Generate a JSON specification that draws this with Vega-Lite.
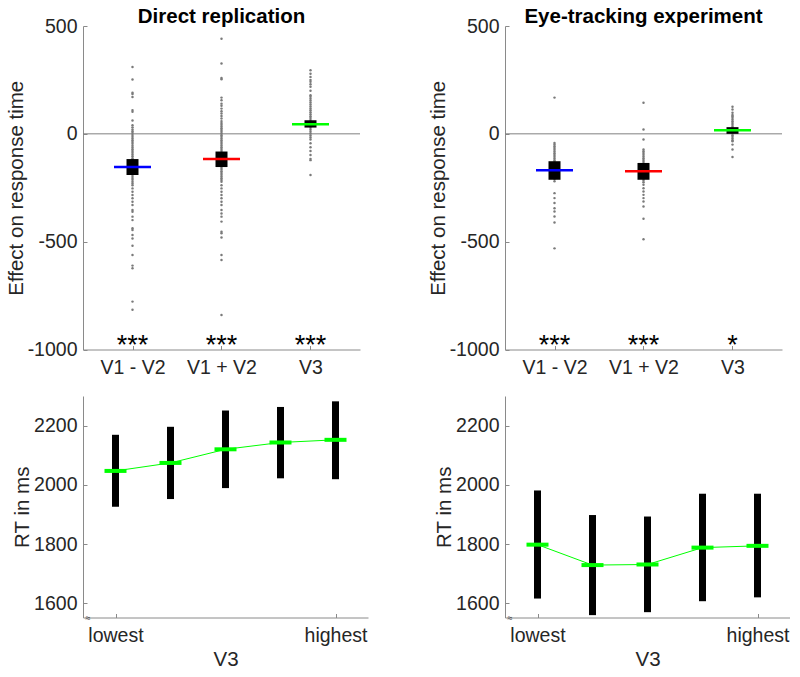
{
  "$schema": "https://vega.github.io/schema/vega-lite/v6.json",
  "background": "white",
  "padding": {"left": 6, "top": 7, "right": 0, "bottom": 0},
  "bounds": "flush",
  "columns": 2,
  "spacing": {"row": 46, "column": 137},
  "config": {
    "view": {"stroke": null},
    "font": "Liberation Sans",
    "axis": {
      "domainColor": "#8a8a8a", "tickColor": "#8a8a8a", "labelColor": "#262626", "titleColor": "#262626",
      "labelFont": "Liberation Sans", "titleFont": "Liberation Sans", "labelFontSize": 19.5, "titleFontSize": 20.5,
      "titleFontWeight": "normal", "grid": false, "tickSize": -4, "labelPadding": 10, "domainWidth": 1
    },
    "axisX": {"labelPadding": 13, "titlePadding": 4},
    "axisY": {"titlePadding": 1},
    "title": {"font": "Liberation Sans", "fontSize": 20.5, "fontWeight": "bold", "color": "#000000", "offset": -11.5}
  },
  "datasets": {
    "dots": [
      {"panel": "A", "x": 1, "y": 310}, {"panel": "A", "x": 1, "y": 252}, {"panel": "A", "x": 1, "y": 191}, {"panel": "A", "x": 1, "y": 185}, {"panel": "A", "x": 1, "y": 171}, {"panel": "A", "x": 1, "y": 110}, {"panel": "A", "x": 1, "y": 102}, {"panel": "A", "x": 1, "y": 62}, {"panel": "A", "x": 1, "y": 40}, {"panel": "A", "x": 1, "y": 30}, {"panel": "A", "x": 1, "y": 20}, {"panel": "A", "x": 1, "y": 12}, {"panel": "A", "x": 1, "y": 4}, {"panel": "A", "x": 1, "y": -5}, {"panel": "A", "x": 1, "y": -14}, {"panel": "A", "x": 1, "y": -22}, {"panel": "A", "x": 1, "y": -30}, {"panel": "A", "x": 1, "y": -38}, {"panel": "A", "x": 1, "y": -46}, {"panel": "A", "x": 1, "y": -55}, {"panel": "A", "x": 1, "y": -63}, {"panel": "A", "x": 1, "y": -71}, {"panel": "A", "x": 1, "y": -80}, {"panel": "A", "x": 1, "y": -88}, {"panel": "A", "x": 1, "y": -96}, {"panel": "A", "x": 1, "y": -104}, {"panel": "A", "x": 1, "y": -113}, {"panel": "A", "x": 1, "y": -121}, {"panel": "A", "x": 1, "y": -130}, {"panel": "A", "x": 1, "y": -138}, {"panel": "A", "x": 1, "y": -146}, {"panel": "A", "x": 1, "y": -155}, {"panel": "A", "x": 1, "y": -163}, {"panel": "A", "x": 1, "y": -171}, {"panel": "A", "x": 1, "y": -180}, {"panel": "A", "x": 1, "y": -188}, {"panel": "A", "x": 1, "y": -196}, {"panel": "A", "x": 1, "y": -205}, {"panel": "A", "x": 1, "y": -213}, {"panel": "A", "x": 1, "y": -222}, {"panel": "A", "x": 1, "y": -230}, {"panel": "A", "x": 1, "y": -238}, {"panel": "A", "x": 1, "y": -253}, {"panel": "A", "x": 1, "y": -269}, {"panel": "A", "x": 1, "y": -284}, {"panel": "A", "x": 1, "y": -299}, {"panel": "A", "x": 1, "y": -315}, {"panel": "A", "x": 1, "y": -330}, {"panel": "A", "x": 1, "y": -353}, {"panel": "A", "x": 1, "y": -361}, {"panel": "A", "x": 1, "y": -384}, {"panel": "A", "x": 1, "y": -400}, {"panel": "A", "x": 1, "y": -438}, {"panel": "A", "x": 1, "y": -446}, {"panel": "A", "x": 1, "y": -469}, {"panel": "A", "x": 1, "y": -485}, {"panel": "A", "x": 1, "y": -519}, {"panel": "A", "x": 1, "y": -562}, {"panel": "A", "x": 1, "y": -611}, {"panel": "A", "x": 1, "y": -623}, {"panel": "A", "x": 1, "y": -778}, {"panel": "A", "x": 1, "y": -816},
      {"panel": "A", "x": 2, "y": 441}, {"panel": "A", "x": 2, "y": 326}, {"panel": "A", "x": 2, "y": 259}, {"panel": "A", "x": 2, "y": 253}, {"panel": "A", "x": 2, "y": 168}, {"panel": "A", "x": 2, "y": 156}, {"panel": "A", "x": 2, "y": 140}, {"panel": "A", "x": 2, "y": 130}, {"panel": "A", "x": 2, "y": 117}, {"panel": "A", "x": 2, "y": 105}, {"panel": "A", "x": 2, "y": 94}, {"panel": "A", "x": 2, "y": 83}, {"panel": "A", "x": 2, "y": 71}, {"panel": "A", "x": 2, "y": 59}, {"panel": "A", "x": 2, "y": 50}, {"panel": "A", "x": 2, "y": 42}, {"panel": "A", "x": 2, "y": 34}, {"panel": "A", "x": 2, "y": 26}, {"panel": "A", "x": 2, "y": 18}, {"panel": "A", "x": 2, "y": 10}, {"panel": "A", "x": 2, "y": 2}, {"panel": "A", "x": 2, "y": -6}, {"panel": "A", "x": 2, "y": -14}, {"panel": "A", "x": 2, "y": -22}, {"panel": "A", "x": 2, "y": -30}, {"panel": "A", "x": 2, "y": -38}, {"panel": "A", "x": 2, "y": -46}, {"panel": "A", "x": 2, "y": -54}, {"panel": "A", "x": 2, "y": -62}, {"panel": "A", "x": 2, "y": -70}, {"panel": "A", "x": 2, "y": -78}, {"panel": "A", "x": 2, "y": -86}, {"panel": "A", "x": 2, "y": -94}, {"panel": "A", "x": 2, "y": -102}, {"panel": "A", "x": 2, "y": -110}, {"panel": "A", "x": 2, "y": -118}, {"panel": "A", "x": 2, "y": -126}, {"panel": "A", "x": 2, "y": -134}, {"panel": "A", "x": 2, "y": -142}, {"panel": "A", "x": 2, "y": -150}, {"panel": "A", "x": 2, "y": -158}, {"panel": "A", "x": 2, "y": -166}, {"panel": "A", "x": 2, "y": -174}, {"panel": "A", "x": 2, "y": -182}, {"panel": "A", "x": 2, "y": -190}, {"panel": "A", "x": 2, "y": -198}, {"panel": "A", "x": 2, "y": -206}, {"panel": "A", "x": 2, "y": -214}, {"panel": "A", "x": 2, "y": -222}, {"panel": "A", "x": 2, "y": -238}, {"panel": "A", "x": 2, "y": -253}, {"panel": "A", "x": 2, "y": -269}, {"panel": "A", "x": 2, "y": -284}, {"panel": "A", "x": 2, "y": -299}, {"panel": "A", "x": 2, "y": -315}, {"panel": "A", "x": 2, "y": -330}, {"panel": "A", "x": 2, "y": -353}, {"panel": "A", "x": 2, "y": -369}, {"panel": "A", "x": 2, "y": -384}, {"panel": "A", "x": 2, "y": -407}, {"panel": "A", "x": 2, "y": -454}, {"panel": "A", "x": 2, "y": -461}, {"panel": "A", "x": 2, "y": -481}, {"panel": "A", "x": 2, "y": -562}, {"panel": "A", "x": 2, "y": -585}, {"panel": "A", "x": 2, "y": -840},
      {"panel": "A", "x": 3, "y": 295}, {"panel": "A", "x": 3, "y": 279}, {"panel": "A", "x": 3, "y": 264}, {"panel": "A", "x": 3, "y": 250}, {"panel": "A", "x": 3, "y": 241}, {"panel": "A", "x": 3, "y": 230}, {"panel": "A", "x": 3, "y": 218}, {"panel": "A", "x": 3, "y": 200}, {"panel": "A", "x": 3, "y": 179}, {"panel": "A", "x": 3, "y": 172}, {"panel": "A", "x": 3, "y": 163}, {"panel": "A", "x": 3, "y": 154}, {"panel": "A", "x": 3, "y": 145}, {"panel": "A", "x": 3, "y": 136}, {"panel": "A", "x": 3, "y": 127}, {"panel": "A", "x": 3, "y": 118}, {"panel": "A", "x": 3, "y": 109}, {"panel": "A", "x": 3, "y": 100}, {"panel": "A", "x": 3, "y": 91}, {"panel": "A", "x": 3, "y": 82}, {"panel": "A", "x": 3, "y": 73}, {"panel": "A", "x": 3, "y": 64}, {"panel": "A", "x": 3, "y": 55}, {"panel": "A", "x": 3, "y": 46}, {"panel": "A", "x": 3, "y": 37}, {"panel": "A", "x": 3, "y": 28}, {"panel": "A", "x": 3, "y": 19}, {"panel": "A", "x": 3, "y": 10}, {"panel": "A", "x": 3, "y": 1}, {"panel": "A", "x": 3, "y": -8}, {"panel": "A", "x": 3, "y": -17}, {"panel": "A", "x": 3, "y": -26}, {"panel": "A", "x": 3, "y": -44}, {"panel": "A", "x": 3, "y": -62}, {"panel": "A", "x": 3, "y": -80}, {"panel": "A", "x": 3, "y": -98}, {"panel": "A", "x": 3, "y": -116}, {"panel": "A", "x": 3, "y": -122}, {"panel": "A", "x": 3, "y": -191},
      {"panel": "B", "x": 1, "y": 168}, {"panel": "B", "x": 1, "y": -42}, {"panel": "B", "x": 1, "y": -50}, {"panel": "B", "x": 1, "y": -58}, {"panel": "B", "x": 1, "y": -66}, {"panel": "B", "x": 1, "y": -74}, {"panel": "B", "x": 1, "y": -82}, {"panel": "B", "x": 1, "y": -90}, {"panel": "B", "x": 1, "y": -98}, {"panel": "B", "x": 1, "y": -106}, {"panel": "B", "x": 1, "y": -114}, {"panel": "B", "x": 1, "y": -122}, {"panel": "B", "x": 1, "y": -130}, {"panel": "B", "x": 1, "y": -138}, {"panel": "B", "x": 1, "y": -146}, {"panel": "B", "x": 1, "y": -154}, {"panel": "B", "x": 1, "y": -162}, {"panel": "B", "x": 1, "y": -170}, {"panel": "B", "x": 1, "y": -178}, {"panel": "B", "x": 1, "y": -186}, {"panel": "B", "x": 1, "y": -194}, {"panel": "B", "x": 1, "y": -202}, {"panel": "B", "x": 1, "y": -210}, {"panel": "B", "x": 1, "y": -220}, {"panel": "B", "x": 1, "y": -275}, {"panel": "B", "x": 1, "y": -298}, {"panel": "B", "x": 1, "y": -321}, {"panel": "B", "x": 1, "y": -345}, {"panel": "B", "x": 1, "y": -360}, {"panel": "B", "x": 1, "y": -383}, {"panel": "B", "x": 1, "y": -411}, {"panel": "B", "x": 1, "y": -531},
      {"panel": "B", "x": 2, "y": 144}, {"panel": "B", "x": 2, "y": 20}, {"panel": "B", "x": 2, "y": -26}, {"panel": "B", "x": 2, "y": -73}, {"panel": "B", "x": 2, "y": -81}, {"panel": "B", "x": 2, "y": -89}, {"panel": "B", "x": 2, "y": -97}, {"panel": "B", "x": 2, "y": -105}, {"panel": "B", "x": 2, "y": -113}, {"panel": "B", "x": 2, "y": -121}, {"panel": "B", "x": 2, "y": -129}, {"panel": "B", "x": 2, "y": -137}, {"panel": "B", "x": 2, "y": -145}, {"panel": "B", "x": 2, "y": -153}, {"panel": "B", "x": 2, "y": -161}, {"panel": "B", "x": 2, "y": -169}, {"panel": "B", "x": 2, "y": -177}, {"panel": "B", "x": 2, "y": -185}, {"panel": "B", "x": 2, "y": -193}, {"panel": "B", "x": 2, "y": -201}, {"panel": "B", "x": 2, "y": -209}, {"panel": "B", "x": 2, "y": -217}, {"panel": "B", "x": 2, "y": -225}, {"panel": "B", "x": 2, "y": -236}, {"panel": "B", "x": 2, "y": -252}, {"panel": "B", "x": 2, "y": -267}, {"panel": "B", "x": 2, "y": -283}, {"panel": "B", "x": 2, "y": -298}, {"panel": "B", "x": 2, "y": -314}, {"panel": "B", "x": 2, "y": -337}, {"panel": "B", "x": 2, "y": -394}, {"panel": "B", "x": 2, "y": -489},
      {"panel": "B", "x": 3, "y": 126}, {"panel": "B", "x": 3, "y": 113}, {"panel": "B", "x": 3, "y": 98}, {"panel": "B", "x": 3, "y": 87}, {"panel": "B", "x": 3, "y": 82}, {"panel": "B", "x": 3, "y": 74}, {"panel": "B", "x": 3, "y": 66}, {"panel": "B", "x": 3, "y": 58}, {"panel": "B", "x": 3, "y": 50}, {"panel": "B", "x": 3, "y": 42}, {"panel": "B", "x": 3, "y": 34}, {"panel": "B", "x": 3, "y": 26}, {"panel": "B", "x": 3, "y": 18}, {"panel": "B", "x": 3, "y": 10}, {"panel": "B", "x": 3, "y": 2}, {"panel": "B", "x": 3, "y": -6}, {"panel": "B", "x": 3, "y": -14}, {"panel": "B", "x": 3, "y": -22}, {"panel": "B", "x": 3, "y": -30}, {"panel": "B", "x": 3, "y": -34}, {"panel": "B", "x": 3, "y": -50}, {"panel": "B", "x": 3, "y": -73}, {"panel": "B", "x": 3, "y": -107}
    ],
    "summ": [
      {"panel": "A", "x": 1, "mean": -154, "lo": -191, "hi": -117, "col": "#0000ff", "stars": "***"},
      {"panel": "A", "x": 2, "mean": -117, "lo": -154, "hi": -82, "col": "#ff0000", "stars": "***"},
      {"panel": "A", "x": 3, "mean": 44, "lo": 29, "hi": 63, "col": "#00ff00", "stars": "***"},
      {"panel": "B", "x": 1, "mean": -169, "lo": -213, "hi": -127, "col": "#0000ff", "stars": "***"},
      {"panel": "B", "x": 2, "mean": -174, "lo": -213, "hi": -135, "col": "#ff0000", "stars": "***"},
      {"panel": "B", "x": 3, "mean": 17, "lo": 0, "hi": 31, "col": "#00ff00", "stars": "*"}
    ],
    "rt": [
      {"panel": "A", "level": 1, "mean": 2047, "lo": 1926, "hi": 2169},
      {"panel": "A", "level": 2, "mean": 2074, "lo": 1952, "hi": 2196},
      {"panel": "A", "level": 3, "mean": 2120, "lo": 1989, "hi": 2251},
      {"panel": "A", "level": 4, "mean": 2143, "lo": 2022, "hi": 2263},
      {"panel": "A", "level": 5, "mean": 2152, "lo": 2019, "hi": 2282},
      {"panel": "B", "level": 1, "mean": 1798, "lo": 1616, "hi": 1981},
      {"panel": "B", "level": 2, "mean": 1729, "lo": 1560, "hi": 1898},
      {"panel": "B", "level": 3, "mean": 1731, "lo": 1570, "hi": 1893},
      {"panel": "B", "level": 4, "mean": 1788, "lo": 1607, "hi": 1970},
      {"panel": "B", "level": 5, "mean": 1794, "lo": 1620, "hi": 1970}
    ]
  },
  "concat": [
    {
      "title": "Direct replication",
      "width": 277, "height": 323.5,
      "layer": [
        {
          "data": {"values": [{"z": 0}]},
          "mark": {"type": "rule", "color": "#808080", "strokeWidth": 1},
          "encoding": {
            "y": {"field": "z", "type": "quantitative", "scale": {"domain": [-1000, 500], "nice": false, "zero": false},
                  "axis": {"title": "Effect on response time", "values": [-1000, -500, 0, 500], "labelExpr": "'' + datum.value"}}
          }
        },
        {
          "data": {"name": "dots"}, "transform": [{"filter": "datum.panel == 'A'"}],
          "mark": {"type": "point", "filled": true, "size": 6, "color": "#7a7a7a", "opacity": 1},
          "encoding": {
            "x": {"field": "x", "type": "quantitative", "scale": {"domain": [0.5, 3.5], "nice": false, "zero": false},
                  "axis": {"title": null, "values": [1, 2, 3], "labelExpr": "['', 'V1 - V2', 'V1 + V2', 'V3'][datum.value]"}},
            "y": {"field": "y", "type": "quantitative"}
          }
        },
        {
          "data": {"name": "summ"}, "transform": [{"filter": "datum.panel == 'A'"}],
          "mark": {"type": "bar", "size": 12, "color": "#000000"},
          "encoding": {"x": {"field": "x", "type": "quantitative"}, "y": {"field": "lo", "type": "quantitative"}, "y2": {"field": "hi"}}
        },
        {
          "data": {"name": "summ"}, "transform": [{"filter": "datum.panel == 'A'"}],
          "mark": {"type": "tick", "orient": "horizontal", "size": 37, "thickness": 2.5, "opacity": 1},
          "encoding": {"x": {"field": "x", "type": "quantitative"}, "y": {"field": "mean", "type": "quantitative"},
                       "color": {"field": "col", "type": "nominal", "scale": null}}
        },
        {
          "data": {"name": "summ"}, "transform": [{"filter": "datum.panel == 'A'"}],
          "mark": {"type": "text", "fontSize": 27, "baseline": "alphabetic", "dy": 4.5, "color": "#000000", "font": "Liberation Sans"},
          "encoding": {"x": {"field": "x", "type": "quantitative"}, "y": {"datum": -1000}, "text": {"field": "stars"}}
        }
      ]
    },
    {
      "title": "Eye-tracking experiment",
      "width": 277, "height": 323.5,
      "layer": [
        {
          "data": {"values": [{"z": 0}]},
          "mark": {"type": "rule", "color": "#808080", "strokeWidth": 1},
          "encoding": {
            "y": {"field": "z", "type": "quantitative", "scale": {"domain": [-1000, 500], "nice": false, "zero": false},
                  "axis": {"title": "Effect on response time", "values": [-1000, -500, 0, 500], "labelExpr": "'' + datum.value"}}
          }
        },
        {
          "data": {"name": "dots"}, "transform": [{"filter": "datum.panel == 'B'"}],
          "mark": {"type": "point", "filled": true, "size": 6, "color": "#7a7a7a", "opacity": 1},
          "encoding": {
            "x": {"field": "x", "type": "quantitative", "scale": {"domain": [0.5, 3.5], "nice": false, "zero": false},
                  "axis": {"title": null, "values": [1, 2, 3], "labelExpr": "['', 'V1 - V2', 'V1 + V2', 'V3'][datum.value]"}},
            "y": {"field": "y", "type": "quantitative"}
          }
        },
        {
          "data": {"name": "summ"}, "transform": [{"filter": "datum.panel == 'B'"}],
          "mark": {"type": "bar", "size": 12, "color": "#000000"},
          "encoding": {"x": {"field": "x", "type": "quantitative"}, "y": {"field": "lo", "type": "quantitative"}, "y2": {"field": "hi"}}
        },
        {
          "data": {"name": "summ"}, "transform": [{"filter": "datum.panel == 'B'"}],
          "mark": {"type": "tick", "orient": "horizontal", "size": 37, "thickness": 2.5, "opacity": 1},
          "encoding": {"x": {"field": "x", "type": "quantitative"}, "y": {"field": "mean", "type": "quantitative"},
                       "color": {"field": "col", "type": "nominal", "scale": null}}
        },
        {
          "data": {"name": "summ"}, "transform": [{"filter": "datum.panel == 'B'"}],
          "mark": {"type": "text", "fontSize": 27, "baseline": "alphabetic", "dy": 4.5, "color": "#000000", "font": "Liberation Sans"},
          "encoding": {"x": {"field": "x", "type": "quantitative"}, "y": {"datum": -1000}, "text": {"field": "stars"}}
        }
      ]
    },
    {
      "width": 285, "height": 221.5,
      "layer": [
        {
          "data": {"name": "rt"}, "transform": [{"filter": "datum.panel == 'A'"}],
          "mark": {"type": "bar", "size": 7, "color": "#000000"},
          "encoding": {
            "x": {"field": "level", "type": "quantitative", "scale": {"domain": [0.5, 5.5], "nice": false, "zero": false},
                  "axis": {"title": "V3", "values": [1, 5], "labelExpr": "datum.value == 1 ? 'lowest' : 'highest'"}},
            "y": {"field": "lo", "type": "quantitative", "scale": {"domain": [1552, 2300], "nice": false, "zero": false},
                  "axis": {"title": "RT in ms", "values": [1600, 1800, 2000, 2200], "labelExpr": "'' + datum.value"}},
            "y2": {"field": "hi"}
          }
        },
        {
          "data": {"name": "rt"}, "transform": [{"filter": "datum.panel == 'A'"}],
          "mark": {"type": "line", "color": "#00ff00", "strokeWidth": 1},
          "encoding": {"x": {"field": "level", "type": "quantitative"}, "y": {"field": "mean", "type": "quantitative"}}
        },
        {
          "data": {"name": "rt"}, "transform": [{"filter": "datum.panel == 'A'"}],
          "mark": {"type": "tick", "orient": "horizontal", "size": 22, "thickness": 4, "color": "#00ff00", "opacity": 1},
          "encoding": {"x": {"field": "level", "type": "quantitative"}, "y": {"field": "mean", "type": "quantitative"}}
        },
        {
          "data": {"values": [{"s": "≈"}]},
          "mark": {"type": "text", "fontSize": 9, "color": "#262626", "baseline": "middle", "align": "center"},
          "encoding": {"x": {"datum": 0.5}, "y": {"datum": 1552}, "text": {"field": "s"}}
        }
      ]
    },
    {
      "width": 285, "height": 221.5,
      "layer": [
        {
          "data": {"name": "rt"}, "transform": [{"filter": "datum.panel == 'B'"}],
          "mark": {"type": "bar", "size": 7, "color": "#000000"},
          "encoding": {
            "x": {"field": "level", "type": "quantitative", "scale": {"domain": [0.5, 5.5], "nice": false, "zero": false},
                  "axis": {"title": "V3", "values": [1, 5], "labelExpr": "datum.value == 1 ? 'lowest' : 'highest'"}},
            "y": {"field": "lo", "type": "quantitative", "scale": {"domain": [1552, 2300], "nice": false, "zero": false},
                  "axis": {"title": "RT in ms", "values": [1600, 1800, 2000, 2200], "labelExpr": "'' + datum.value"}},
            "y2": {"field": "hi"}
          }
        },
        {
          "data": {"name": "rt"}, "transform": [{"filter": "datum.panel == 'B'"}],
          "mark": {"type": "line", "color": "#00ff00", "strokeWidth": 1},
          "encoding": {"x": {"field": "level", "type": "quantitative"}, "y": {"field": "mean", "type": "quantitative"}}
        },
        {
          "data": {"name": "rt"}, "transform": [{"filter": "datum.panel == 'B'"}],
          "mark": {"type": "tick", "orient": "horizontal", "size": 22, "thickness": 4, "color": "#00ff00", "opacity": 1},
          "encoding": {"x": {"field": "level", "type": "quantitative"}, "y": {"field": "mean", "type": "quantitative"}}
        },
        {
          "data": {"values": [{"s": "≈"}]},
          "mark": {"type": "text", "fontSize": 9, "color": "#262626", "baseline": "middle", "align": "center"},
          "encoding": {"x": {"datum": 0.5}, "y": {"datum": 1552}, "text": {"field": "s"}}
        }
      ]
    }
  ]
}
